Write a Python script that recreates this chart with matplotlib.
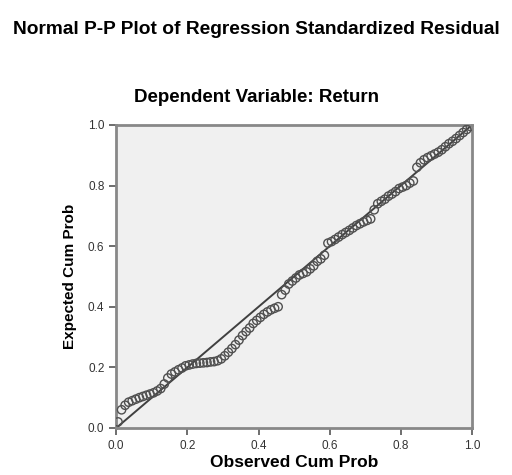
import matplotlib.pyplot as plt

# Observed vs expected cumulative probabilities
observed_cum_prob = [
    0.005, 0.015, 0.025, 0.035, 0.045, 0.055, 0.065, 0.075, 0.085, 0.095,
    0.105, 0.115, 0.125, 0.135, 0.145, 0.155, 0.165, 0.175, 0.185, 0.195,
    0.205, 0.215, 0.225, 0.235, 0.245, 0.255, 0.265, 0.275, 0.285, 0.295,
    0.305, 0.315, 0.325, 0.335, 0.345, 0.355, 0.365, 0.375, 0.385, 0.395,
    0.405, 0.415, 0.425, 0.435, 0.445, 0.455, 0.465, 0.475, 0.485, 0.495,
    0.505, 0.515, 0.525, 0.535, 0.545, 0.555, 0.565, 0.575, 0.585, 0.595,
    0.605, 0.615, 0.625, 0.635, 0.645, 0.655, 0.665, 0.675, 0.685, 0.695,
    0.705, 0.715, 0.725, 0.735, 0.745, 0.755, 0.765, 0.775, 0.785, 0.795,
    0.805, 0.815, 0.825, 0.835, 0.845, 0.855, 0.865, 0.875, 0.885, 0.895,
    0.905, 0.915, 0.925, 0.935, 0.945, 0.955, 0.965, 0.975, 0.985, 0.995,
]
expected_cum_prob = [
    0.020, 0.060, 0.075, 0.085, 0.090, 0.095, 0.100, 0.104, 0.108, 0.112,
    0.116, 0.122, 0.130, 0.145, 0.165, 0.178, 0.185, 0.192, 0.198, 0.205,
    0.208, 0.211, 0.213, 0.214, 0.215, 0.216, 0.218, 0.219, 0.222, 0.228,
    0.238, 0.250, 0.262, 0.275, 0.290, 0.305, 0.318, 0.330, 0.345, 0.355,
    0.365, 0.375, 0.383, 0.390, 0.395, 0.400, 0.440, 0.455, 0.475, 0.485,
    0.495, 0.505, 0.510, 0.515, 0.525, 0.535, 0.550, 0.558, 0.570, 0.610,
    0.615, 0.622, 0.630, 0.638, 0.645, 0.652, 0.660, 0.668, 0.674, 0.680,
    0.685, 0.690, 0.720, 0.740, 0.748, 0.755, 0.765, 0.772, 0.780, 0.790,
    0.795, 0.800, 0.808, 0.815, 0.860, 0.875, 0.885, 0.892, 0.898, 0.904,
    0.910, 0.918, 0.928, 0.938, 0.946, 0.955, 0.965, 0.975, 0.985, 0.995,
]
ticks = [0.0, 0.2, 0.4, 0.6, 0.8, 1.0]
tick_labels = ['0.0', '0.2', '0.4', '0.6', '0.8', '1.0']

plt.rcParams['font.family'] = ['Liberation Sans', 'DejaVu Sans']

fig = plt.figure(figsize=(5.12, 4.75), dpi=100)
ax = fig.add_axes([0.227, 0.099, 0.695, 0.638])
ax.set_facecolor('#f0f0f0')

# reference diagonal
ax.plot([0, 1], [0, 1], color='#404040', linewidth=1.4, zorder=2)
ax.scatter(observed_cum_prob, expected_cum_prob, s=36, facecolors='none',
           edgecolors='#505050', linewidths=1.0, zorder=3)

ax.set_xlim(0, 1)
ax.set_ylim(0, 1)
ax.set_xticks(ticks)
ax.set_xticklabels(tick_labels)
ax.set_yticks(ticks)
ax.set_yticklabels(tick_labels)
ax.tick_params(direction='out', length=5, width=1.2, color='#555555',
               labelsize=8.5, labelcolor='#333333')
for side in ['left', 'bottom', 'top', 'right']:
    ax.spines[side].set_color('#888888')
    ax.spines[side].set_linewidth(2)

ax.set_xlabel('Observed Cum Prob', fontsize=12.5, fontweight='bold', labelpad=2)
ax.set_ylabel('Expected Cum Prob', fontsize=11, fontweight='bold', labelpad=8)

fig.text(0.5, 1 - 30 / 475, 'Normal P-P Plot of Regression Standardized Residual',
         ha='center', va='center', fontsize=13.8, fontweight='bold')
fig.text(0.5, 1 - 98 / 475, 'Dependent Variable: Return',
         ha='center', va='center', fontsize=13.5, fontweight='bold')

fig.savefig('out.png', dpi=100, facecolor='white')
